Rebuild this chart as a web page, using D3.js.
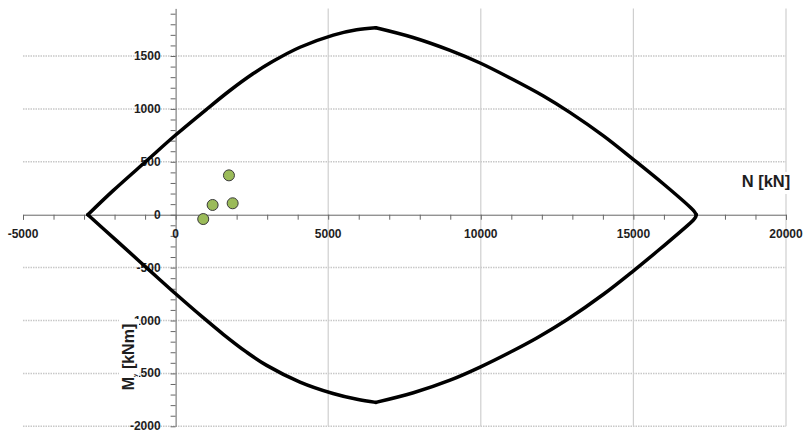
<html>
<head>
    <script src="https://d3js.org/d3.v7.min.js"></script>
    <style>
        body { margin: 0; background: #fff; }
        text { font-family: "Liberation Sans", Arial, sans-serif; font-weight: bold; fill: #1e1e1e; }
    </style>
</head>

<body>
    <div id="cont">
    </div>

    <script>
        // interaction curve, upper branch (left apex -> peak -> right apex)
        var upperN = [-2875, -2056, -941, 0, 1026, 1780, 2534, 3190, 4075, 5167, 5933, 6560, 7780, 8993, 9977, 10960, 12052, 12928, 14020, 15003, 15987, 16862, 16995, 17060];
        var upperM = [0, 225, 512, 753, 999, 1174, 1332, 1450, 1583, 1698, 1748, 1767, 1675, 1553, 1434, 1292, 1122, 965, 745, 521, 290, 70, 30, 0];
        // lower branch (right apex -> trough -> left apex)
        var lowerN = [17060, 17040, 16967, 15879, 15003, 14020, 12820, 11836, 10960, 9977, 8993, 7790, 6560, 5945, 5158, 4075, 2984, 2328, 1561, 905, 0, -623, -1170, -1934, -2875];
        var lowerM = [0, -22, -50, -322, -530, -752, -993, -1165, -1300, -1440, -1564, -1683, -1774, -1745, -1690, -1582, -1424, -1299, -1130, -973, -747, -586, -444, -245, 0];

        // load cases
        var pointN = [905, 1213, 1869, 1748];
        var pointM = [-41, 92, 108, 372];

        var xTicks = [-5000, 0, 5000, 10000, 15000, 20000];
        var yTicks = [-2000, -1500, -1000, -500, 0, 500, 1000, 1500];

        var svg = d3.select("#cont").append("svg")
            .attr("width", 803)
            .attr("height", 432);

        var x = d3.scaleLinear().domain([-5000, 20000]).range([23, 786]);
        var y = d3.scaleLinear().domain([-2000, 1950]).range([426.3, 8.4]);

        // horizontal grid (dotted)
        svg.append("g").selectAll("line")
            .data(yTicks.filter(function (d) { return d != 0; }))
            .enter().append("line")
            .attr("x1", x(-5000)).attr("x2", x(20000))
            .attr("y1", function (d) { return y(d); })
            .attr("y2", function (d) { return y(d); })
            .attr("stroke", "#c8c8c8")
            .attr("stroke-width", 1.5)
            .attr("stroke-dasharray", "1.5,1");

        // vertical grid
        svg.append("g").selectAll("line")
            .data(xTicks.filter(function (d) { return d > 0; }))
            .enter().append("line")
            .attr("x1", function (d) { return x(d); })
            .attr("x2", function (d) { return x(d); })
            .attr("y1", y(1950)).attr("y2", y(-2000))
            .attr("stroke", "#cfcfcf")
            .attr("stroke-width", 1.2);

        // axes crossing at origin
        var xAxis = d3.axisBottom(x)
            .tickValues(d3.range(-5000, 20001, 1000))
            .tickSize(5)
            .tickFormat("");
        svg.append("g")
            .attr("transform", "translate(0," + y(0) + ")")
            .call(xAxis)
            .call(function (g) { g.selectAll("line, path").attr("stroke", "#666"); });

        var yAxis = d3.axisLeft(y)
            .tickValues(d3.range(-2000, 1901, 100))
            .tickSize(5)
            .tickSizeOuter(0)
            .tickFormat("");
        svg.append("g")
            .attr("transform", "translate(" + x(0) + ",0)")
            .call(yAxis)
            .call(function (g) { g.selectAll("line, path").attr("stroke", "#666"); });

        // tick labels
        svg.append("g").selectAll("text")
            .data(xTicks)
            .enter().append("text")
            .attr("x", function (d) { return x(d); })
            .attr("y", y(0) + 23)
            .attr("text-anchor", "middle")
            .attr("font-size", 12)
            .text(function (d) { return d; });

        svg.append("g").selectAll("text")
            .data(yTicks)
            .enter().append("text")
            .attr("x", x(0) - 15)
            .attr("y", function (d) { return y(d) + 4; })
            .attr("text-anchor", "end")
            .attr("font-size", 12)
            .text(function (d) { return d; });

        // axis titles with white boxes
        var nLab = svg.append("g").attr("transform", "translate(766," + 187 + ")");
        nLab.append("rect").attr("x", -29).attr("y", -15).attr("width", 58).attr("height", 22).attr("fill", "#fff");
        nLab.append("text").attr("text-anchor", "middle").attr("font-size", 16.5).text("N [kN]");

        var mLab = svg.append("g").attr("transform", "translate(134,357) rotate(-90)");
        mLab.append("rect").attr("x", -38).attr("y", -15).attr("width", 76).attr("height", 20).attr("fill", "#fff");
        var mt = mLab.append("text").attr("text-anchor", "middle").attr("font-size", 16);
        mt.append("tspan").text("M");
        mt.append("tspan").attr("font-size", 6).attr("dy", 3).text("y");
        mt.append("tspan").attr("dy", -3).text(" [kNm]");

        // envelope: four smooth pieces meeting at the apexes, peak and trough
        var upper = upperN.map(function (d, i) { return [d, upperM[i]]; });
        var lower = lowerN.map(function (d, i) { return [d, lowerM[i]]; });
        var pk = upperM.indexOf(d3.max(upperM));
        var tr = lowerM.indexOf(d3.min(lowerM));
        var pieces = [upper.slice(0, pk + 1), upper.slice(pk), lower.slice(0, tr + 1), lower.slice(tr)];

        var line = d3.line()
            .x(function (d) { return x(d[0]); })
            .y(function (d) { return y(d[1]); })
            .curve(d3.curveCatmullRom.alpha(0.5));

        svg.append("g").selectAll("path")
            .data(pieces)
            .enter().append("path")
            .attr("d", function (d) { return line(d); })
            .attr("fill", "none")
            .attr("stroke", "#000")
            .attr("stroke-width", 3.5)
            .attr("stroke-linecap", "round")
            .attr("stroke-linejoin", "round");

        // points
        svg.append("g").selectAll("circle")
            .data(pointN)
            .enter().append("circle")
            .attr("cx", function (d) { return x(d); })
            .attr("cy", function (d, i) { return y(pointM[i]); })
            .attr("r", 5.5)
            .attr("fill", "#9bbb59")
            .attr("stroke", "#3a3a3a")
            .attr("stroke-width", 1);
    </script>
</body>
</html>
